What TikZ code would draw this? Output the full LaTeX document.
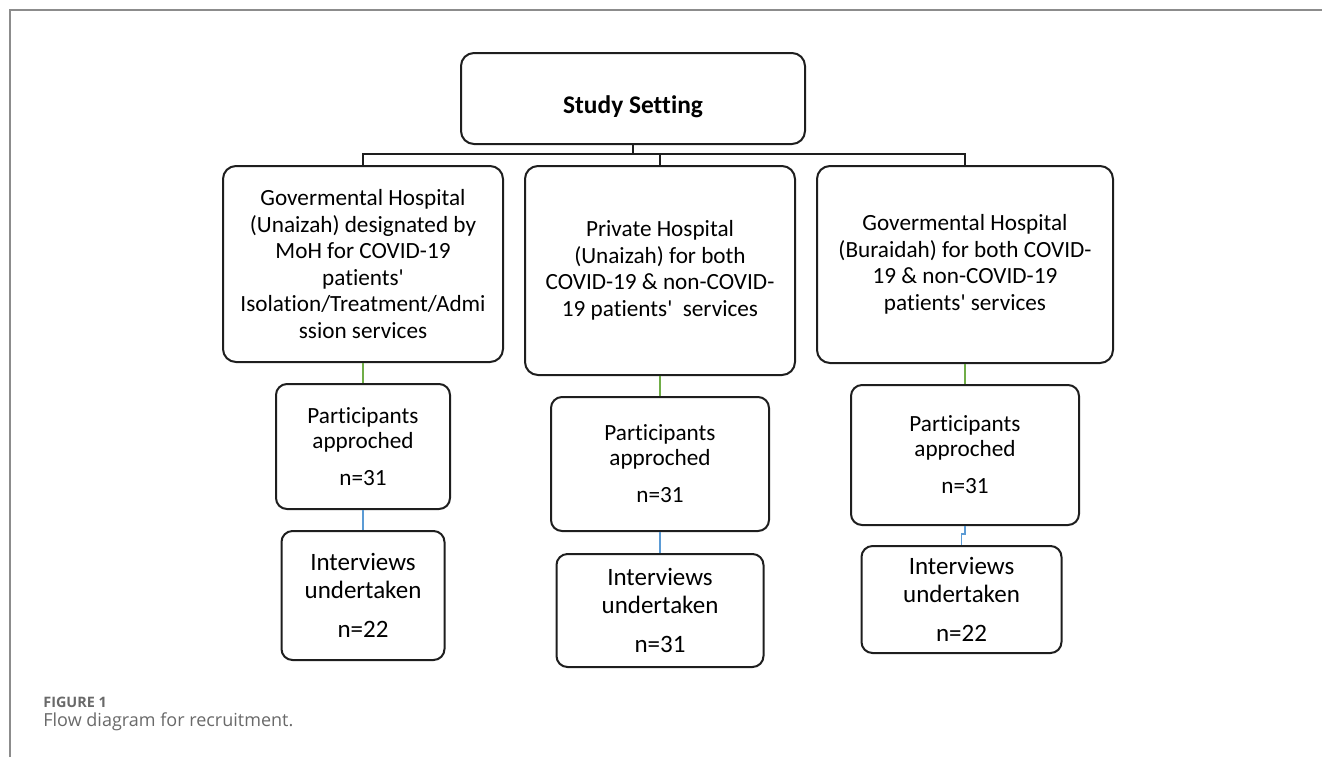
\documentclass[tikz,border=0pt]{standalone}
\usepackage{fontspec}
\setmainfont{Carlito}[Ligatures={NoCommon}]
\newfontfamily\captionfont{Open Sans}
\usetikzlibrary{positioning, calc}
\definecolor{boxcolor}{RGB}{30, 30, 30}
\definecolor{greenlinkcolor}{RGB}{112, 173, 71}
\definecolor{bluelinkcolor}{RGB}{91, 155, 213}
\definecolor{framecolor}{RGB}{140, 140, 140}
\definecolor{captioncolor}{RGB}{105, 105, 105}
\tikzset{
    % Base styles
    basenode/.style={
        draw=boxcolor, line width=1pt, align=center, inner sep=0pt,
        rounded corners=6.5pt, fill=white
    },
    % Specific node types
    settingnode/.style={basenode, font=\fontsize{12.7}{15}\selectfont\bfseries,
        minimum width=172pt, minimum height=45.5pt, text height=14.5pt, text depth=0pt},
    hospitalnode/.style={basenode, font=\fontsize{11.6}{13.25}\selectfont},
    partnode/.style={basenode, font=\fontsize{11.6}{12.5}\selectfont, rounded corners=5.5pt},
    intnode/.style={basenode, font=\fontsize{12.5}{14}\selectfont, rounded corners=5.5pt},
    % Connectors
    treeline/.style={draw=boxcolor, line width=1pt},
    greenlink/.style={draw=greenlinkcolor, line width=0.8pt},
    bluelink/.style={draw=bluelinkcolor, line width=0.8pt},
    % Caption
    captionlabel/.style={anchor=west, inner sep=0pt, text=captioncolor},
}

\begin{document}
\begin{tikzpicture}[x=0.5pt, y=-0.5pt]
\useasboundingbox (0,0) rectangle (1322,757);

% ===== Frame =====
\draw[framecolor, line width=1pt] (10,757) -- (10,10) -- (1322,10);

% ===== Study setting =====
\node (setting) [settingnode] at (633,98.5) {Study Setting};

% ===== Hospitals =====
\node (hosp1) [hospitalnode, minimum width=140pt, minimum height=98pt] at (363,264) {
    Govermental Hospital\\
    (Unaizah) designated by\\
    MoH for COVID-19\\
    patients\textquotesingle\\
    Isolation/Treatment/Admi\\
    ssion services
};
\node (hosp2) [hospitalnode, minimum width=135pt, minimum height=104.5pt] at (660,270.5) {
    Private Hospital\\
    (Unaizah) for both\\
    COVID-19 \& non-COVID-\\
    19 patients\textquotesingle~ services
};
\node (hosp3) [hospitalnode, minimum width=148pt, minimum height=98.5pt] at (965,264.5) {
    Govermental Hospital\\
    (Buraidah) for both COVID-\\
    19 \& non-COVID-19\\
    patients\textquotesingle{} services
};

% ===== Participants =====
\node (part1) [partnode, below=10pt of hosp1, minimum width=87pt, minimum height=62.5pt] {
    Participants\\
    approched\\[6pt]
    n=31
};
\node (part2) [partnode, below=10pt of hosp2, minimum width=109pt, minimum height=67pt] {
    Participants\\
    approched\\[6pt]
    n=31
};
\node (part3) [partnode, below=10pt of hosp3, minimum width=114pt, minimum height=70pt] {
    Participants\\
    approched\\[6pt]
    n=31
};

% ===== Interviews =====
\node (int1) [intnode, below=10pt of part1, minimum width=81.5pt, minimum height=64.5pt] {
    Interviews\\
    undertaken\\[5.5pt]
    n=22
};
\node (int2) [intnode, below=10.5pt of part2, minimum width=103.5pt, minimum height=56.5pt] {
    Interviews\\
    undertaken\\[5.5pt]
    n=31
};
\node (int3) [intnode, below=9.5pt of part3, xshift=-1.75pt, minimum width=100pt, minimum height=53.5pt] {
    Interviews\\
    undertaken\\[5.5pt]
    n=22
};

% ===== Connectors =====
\draw[treeline] (hosp1.north) -- ++(0,-11) -| (setting.south);
\draw[treeline] (hosp2.north) -- ++(0,-11) -| (setting.south);
\draw[treeline] (hosp3.north) -- ++(0,-11) -| (setting.south);

\draw[greenlink] (hosp1.south) -- (part1.north);
\draw[greenlink] (hosp2.south) -- (part2.north);
\draw[greenlink] (hosp3.south) -- (part3.north);

\draw[bluelink] (part1.south) -- (int1.north);
\draw[bluelink] (part2.south) -- (int2.north);
\draw[bluelink] (part3.south) -- ++(0,8) -| (int3.north);

% ===== Caption =====
\node (figlabel) [captionlabel, font=\captionfont\bfseries\fontsize{7.2}{8}\selectfont] at (43,702) {FIGURE 1};
\node (figcaption) [captionlabel, font=\captionfont\fontsize{9}{11}\selectfont] at (43,722) {Flow diagram for recruitment.};

\end{tikzpicture}
\end{document}
